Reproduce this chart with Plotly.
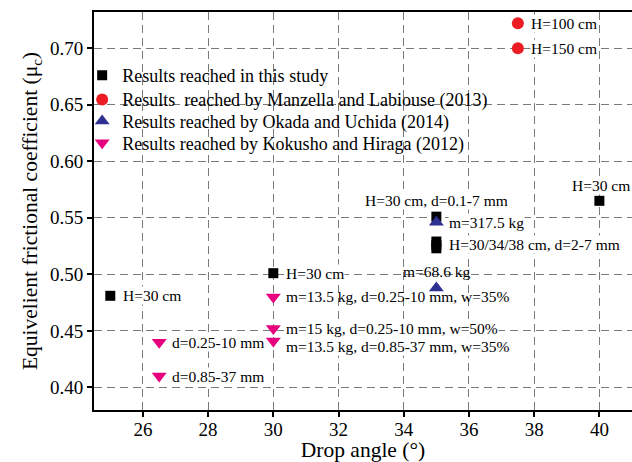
import plotly.graph_objects as go

# ---- data -------------------------------------------------------------
study_angle = [25, 30, 35, 35, 35, 35, 40]
study_mu = [0.481, 0.501, 0.551, 0.523, 0.526, 0.529, 0.565]
study_notes = ["H=30 cm", "H=30 cm", "H=30 cm, d=0.1-7 mm", "",
               "H=30/34/38 cm, d=2-7 mm", "", "H=30 cm"]

manzella_angle = [37.5, 37.5]
manzella_mu = [0.722, 0.700]
manzella_notes = ["H=100 cm", "H=150 cm"]

okada_angle = [35, 35]
okada_mu = [0.546, 0.488]
okada_notes = ["m=317.5 kg", "m=68.6 kg"]

kokusho_angle = [26.5, 26.5, 30, 30, 30]
kokusho_mu = [0.440, 0.410, 0.480, 0.452, 0.441]
kokusho_notes = ["d=0.25-10 mm", "d=0.85-37 mm",
                 "m=13.5 kg, d=0.25-10 mm, w=35%",
                 "m=15 kg, d=0.25-10 mm, w=50%",
                 "m=13.5 kg, d=0.85-37 mm, w=35%"]

x_ticks = [26, 28, 30, 32, 34, 36, 38, 40]
y_ticks = [0.40, 0.45, 0.50, 0.55, 0.60, 0.65, 0.70]

# ---- styling ----------------------------------------------------------
FONT = "Liberation Serif"
series = [
    dict(name="Results reached in this study", x=study_angle, y=study_mu,
         notes=study_notes, symbol="square", size=10, color="#000000"),
    dict(name="Results\u00a0 reached by Manzella and Labiouse (2013)",
         x=manzella_angle, y=manzella_mu, notes=manzella_notes,
         symbol="circle", size=12, color="#ec1c24"),
    dict(name="Results reached by Okada and Uchida (2014)", x=okada_angle,
         y=okada_mu, notes=okada_notes, symbol="triangle-up", size=13,
         color="#2e3192"),
    dict(name="Results reached by Kokusho and Hiraga (2012)",
         x=kokusho_angle, y=kokusho_mu, notes=kokusho_notes,
         symbol="triangle-down", size=13, color="#e6007e"),
]

# one legend box per series so the rows sit at their own heights
legend_ids = ["legend", "legend2", "legend3", "legend4"]
legend_tops = [0.887, 0.826, 0.772, 0.717]

# label placement: (xanchor, xshift, yshift, white background)
placement = {
    (0, 2): ("center", 0, 16, True),
    (0, 6): ("center", 2, 15, True),
    (2, 1): ("center", 1, 16, False),
    (3, 2): ("left", 12, 0, False),
    (3, 4): ("left", 12, -5, True),
}

fig = go.Figure()
annotations = []
for si, s in enumerate(series):
    fig.add_trace(go.Scatter(
        x=s["x"], y=s["y"], mode="markers", name=s["name"],
        legend=legend_ids[si],
        marker=dict(symbol=s["symbol"], size=s["size"], color=s["color"],
                    line=dict(width=0)),
        hoverinfo="skip",
    ))
    for pi, (xv, yv, note) in enumerate(zip(s["x"], s["y"], s["notes"])):
        if not note:
            continue
        xa, xs, ys, bg = placement.get((si, pi), ("left", 12, 0, True))
        annotations.append(dict(
            x=xv, y=yv, xref="x", yref="y", text=note, showarrow=False,
            xanchor=xa, yanchor="middle", xshift=xs, yshift=ys,
            bgcolor="white" if bg else "rgba(0,0,0,0)", borderpad=0,
            font=dict(family=FONT, size=15.5, color="black"),
        ))

# draw lower labels first so the ones above them stay readable
annotations.sort(key=lambda a: a["y"])
fig.update_layout(annotations=annotations)

# white panel behind the legend (hides the grid there)
fig.add_shape(type="rect", xref="paper", yref="paper",
              x0=0.004, x1=0.727, y0=0.64, y1=0.874,
              fillcolor="white", line=dict(width=0), layer="between")

grid = dict(showgrid=True, gridcolor="#7a7a7a", gridwidth=1.2,
            griddash="8px,5px")

legend_style = dict(x=-0.022, xanchor="left", yanchor="top",
                    bgcolor="rgba(0,0,0,0)", borderwidth=0,
                    font=dict(family=FONT, size=18, color="black"),
                    itemsizing="trace")
legends = {lid: dict(y=top, **legend_style)
           for lid, top in zip(legend_ids, legend_tops)}

fig.update_layout(
    width=632, height=462,
    margin=dict(l=94, r=0, t=12, b=52),
    paper_bgcolor="white", plot_bgcolor="white",
    font=dict(family=FONT, color="black"),
    showlegend=True,
    **legends,
    xaxis=dict(range=[24.5, 41.0], tickvals=x_ticks,
               ticktext=[str(v) for v in x_ticks],
               ticks="outside", ticklen=5, tickwidth=1.5, tickcolor="black",
               ticklabelstandoff=-4,
               showline=True, linecolor="black", linewidth=2, mirror=True,
               zeroline=False, tickfont=dict(family=FONT, size=19),
               title=dict(text="Drop angle (°)",
                          font=dict(family=FONT, size=21.5), standoff=2),
               **grid),
    yaxis=dict(range=[0.38, 0.732], tickvals=y_ticks,
               ticktext=[f"{v:.2f}" for v in y_ticks],
               ticks="outside", ticklen=5, tickwidth=1.5, tickcolor="black",
               showline=True, linecolor="black", linewidth=2, mirror=False,
               zeroline=False, tickfont=dict(family=FONT, size=19),
               title=dict(text="Equivelient frictional coefficient (μ<sub>c</sub>)",
                          font=dict(family=FONT, size=21.5), standoff=6),
               **grid),
)

fig.write_html("out.html")
